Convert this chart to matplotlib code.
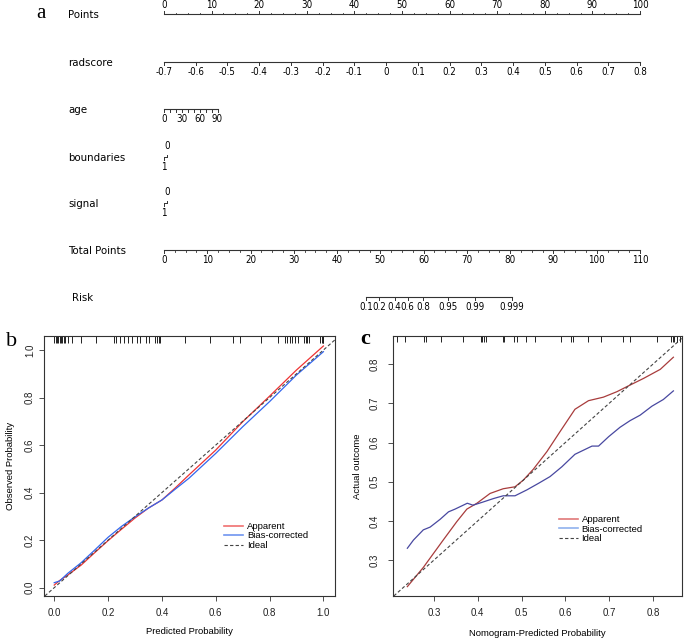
import numpy as np
import matplotlib
matplotlib.use("Agg")
import matplotlib.pyplot as plt
from matplotlib.lines import Line2D
from matplotlib import font_manager

plt.rcParams['font.family'] = ['Liberation Sans', 'DejaVu Sans']
SERIF = ['Liberation Serif', 'DejaVu Serif']

# a condensed face for the nomogram, if one is installed
narrow = None
for f in font_manager.fontManager.ttflist:
    if ('Narrow' in f.name or f.stretch in ('condensed', 'semi-condensed')) and f.weight in (400, 'normal') \
            and f.style == 'normal':
        if narrow is None or 'Liberation' in f.name:
            narrow = f.fname
NFP = dict(fontproperties=font_manager.FontProperties(fname=narrow)) if narrow else dict(family='Liberation Sans')

# ---------------- nomogram data ----------------
points_ticks = np.arange(0, 101, 10)
radscore_ticks = [-0.7, -0.6, -0.5, -0.4, -0.3, -0.2, -0.1, 0, 0.1, 0.2, 0.3, 0.4, 0.5, 0.6, 0.7, 0.8]
radscore_range = (-0.7, 0.8)          # maps to 0..100 points
age_ticks = np.arange(0, 91, 10)
age_labels = [0, 30, 60, 90]
age_max_points = 11.25                # points given to age = 90
boundaries_levels = ['0', '1']
boundaries_points = [0.6, 0.0]
signal_levels = ['0', '1']
signal_points = [0.6, 0.0]
total_ticks = np.arange(0, 111, 10)
total_max = 110
risk_ticks = [0.1, 0.2, 0.4, 0.6, 0.8, 0.95, 0.99, 0.999]
risk_labels = ['0.1', '0.2', '0.4', '0.6', '0.8', '0.95', '0.99', '0.999']
lp_intercept = -14.79                 # linear predictor = a + b * total points
lp_slope = 0.2698

# ---------------- calibration (b) ----------------
b_x = [0, 0.02, 0.05, 0.1, 0.15, 0.2, 0.25, 0.3, 0.35, 0.4, 0.45, 0.5, 0.6, 0.7, 0.8, 0.9, 1.0]
b_apparent = [0.011, 0.03, 0.053, 0.095, 0.147, 0.198, 0.246, 0.293, 0.335, 0.369, 0.42, 0.474,
              0.579, 0.698, 0.806, 0.916, 1.017]
b_bias = [0.021, 0.028, 0.06, 0.105, 0.158, 0.212, 0.258, 0.298, 0.335, 0.369, 0.415, 0.46,
          0.565, 0.677, 0.783, 0.895, 0.993]
b_rug = [0.0, 0.005, 0.01, 0.015, 0.02, 0.025, 0.03, 0.035, 0.04, 0.052, 0.067, 0.098, 0.157,
         0.222, 0.229, 0.244, 0.259, 0.273, 0.288, 0.306, 0.319, 0.341, 0.353, 0.374, 0.383,
         0.39, 0.393, 0.486, 0.579, 0.665, 0.69, 0.767, 0.833, 0.858, 0.866, 0.874, 0.882,
         0.895, 0.907, 0.926, 0.935, 0.938, 0.948, 0.988, 0.994, 0.998, 1.0]

# ---------------- calibration (c) ----------------
c_app_x = [0.239, 0.2755, 0.321, 0.352, 0.375, 0.398, 0.428, 0.458, 0.485, 0.504, 0.527, 0.558,
           0.588, 0.622, 0.653, 0.687, 0.718, 0.741, 0.779, 0.817, 0.847]
c_app_y = [0.232, 0.281, 0.351, 0.398, 0.430, 0.445, 0.470, 0.482, 0.487, 0.504, 0.532, 0.577,
           0.628, 0.685, 0.707, 0.716, 0.730, 0.743, 0.764, 0.787, 0.818]
c_bias_x = [0.239, 0.253, 0.2755, 0.291, 0.314, 0.333, 0.348, 0.376, 0.389, 0.409, 0.436, 0.458,
            0.485, 0.512, 0.539, 0.565, 0.592, 0.622, 0.661, 0.676, 0.699, 0.725, 0.748, 0.771,
            0.798, 0.824, 0.847]
c_bias_y = [0.330, 0.351, 0.377, 0.384, 0.404, 0.423, 0.430, 0.445, 0.440, 0.447, 0.457, 0.464,
            0.464, 0.479, 0.496, 0.513, 0.538, 0.570, 0.591, 0.591, 0.615, 0.639, 0.656, 0.670,
            0.693, 0.710, 0.732]
c_rug = [0.216, 0.234, 0.278, 0.281, 0.315, 0.367, 0.407, 0.410, 0.415, 0.419, 0.457, 0.461,
         0.483, 0.489, 0.510, 0.531, 0.590, 0.613, 0.617, 0.651, 0.682, 0.731, 0.747, 0.809,
         0.842, 0.846, 0.849, 0.856, 0.862]

fig = plt.figure(figsize=(6.85, 6.39), dpi=100)

# ================= a: nomogram =================
ppx = 4.76                      # pixels per point
ax = fig.add_axes([0, 1 - 320 / 639, 1, 320 / 639])
ax.set_xlim(-164 / ppx, (685 - 164) / ppx)
ax.set_ylim(320, 0)
ax.axis('off')
lc = '#333333'
tfs = 7.0 if narrow else 6.3


def scale(y, pos, labels, up=False, minor=None, lab_pos=None, tick=3):
    ax.plot([min(pos), max(pos)], [y, y], color=lc, lw=0.8)
    d = -tick if up else tick
    for p in pos:
        ax.plot([p, p], [y, y + d], color=lc, lw=0.7)
    if minor is not None:
        for p in minor:
            ax.plot([p, p], [y, y + d * 0.5], color=lc, lw=0.6)
    if lab_pos is None:
        lab_pos = pos
    for p, t in zip(lab_pos, labels):
        ax.text(p, y + (-9 if up else 10), t, ha='center', va='center', fontsize=tfs, **NFP)


row_y = {'Points': 14, 'radscore': 62, 'age': 109, 'boundaries': 157,
         'signal': 203, 'Total Points': 250, 'Risk': 297}
for name, y in row_y.items():
    ax.text(-96 / ppx if name != 'Risk' else -92 / ppx, y + 1, name, ha='left', va='center',
            fontsize=8.2 if narrow else 7.3, **NFP)

scale(row_y['Points'], points_ticks, [str(v) for v in points_ticks], up=True,
      minor=[v for v in np.arange(0, 100.1, 2.5) if v % 10])

rad_pts = [(r - radscore_range[0]) / (radscore_range[1] - radscore_range[0]) * 100 for r in radscore_ticks]
scale(row_y['radscore'], rad_pts, [('%g' % r) for r in radscore_ticks])

age_pts = [a / 90 * age_max_points for a in age_ticks]
scale(row_y['age'], age_pts, [str(a) for a in age_labels],
      lab_pos=[a / 90 * age_max_points for a in age_labels], tick=2.5)

for name, levels, pts in [('boundaries', boundaries_levels, boundaries_points),
                          ('signal', signal_levels, signal_points)]:
    y = row_y[name]
    ax.plot([min(pts), max(pts)], [y, y], color=lc, lw=0.7)
    for lev, p in zip(levels, pts):
        if p == max(pts):
            ax.plot([p, p], [y, y - 2.5], color=lc, lw=0.7)
            ax.text(p, y - 11, lev, ha='center', va='center', fontsize=tfs, **NFP)
        else:
            ax.plot([p, p], [y, y + 2.5], color=lc, lw=0.7)
            ax.text(p, y + 10, lev, ha='center', va='center', fontsize=tfs, **NFP)

tot_scale = 100 / total_max
scale(row_y['Total Points'], [t * tot_scale for t in total_ticks], [str(t) for t in total_ticks],
      minor=[v * tot_scale for v in np.arange(0, 110.1, 2.5) if v % 10])

risk_tp = [(np.log(p / (1 - p)) - lp_intercept) / lp_slope for p in risk_ticks]
scale(row_y['Risk'], [t * tot_scale for t in risk_tp], risk_labels, tick=2.5)

fig.text(41 / 685, 1 - 13 / 639, 'a', fontsize=15, family=SERIF, ha='center', va='center')


def style(axx):
    for s in axx.spines.values():
        s.set_linewidth(0.8)
        s.set_color('#333333')
    axx.tick_params(direction='out', length=3.5, width=0.6, labelsize=7.0, colors='#333333',
                    labelcolor='#222222')
    axx.tick_params(axis='x', pad=5)
    axx.tick_params(axis='y', pad=3)
    for lab in axx.get_yticklabels():
        lab.set_rotation(90)
        lab.set_va('center')


# ================= b =================
axb = fig.add_axes([44 / 685, 43 / 639, 291 / 685, 260 / 639])
axb.plot(b_x, b_apparent, color='#EE3333', lw=0.9)
axb.plot(b_x, b_bias, color='#3366EE', lw=0.9)
axb.axline((0, 0), slope=1, color='#444444', lw=0.8, ls=(0, (3, 2)))
axb.vlines(b_rug, 0.972, 1.0, transform=axb.get_xaxis_transform(), color='#222222', lw=0.7)
axb.set_xlim(-0.038, 1.043)
axb.set_ylim(-0.035, 1.059)
axb.set_xticks([0, 0.2, 0.4, 0.6, 0.8, 1.0])
axb.set_yticks([0, 0.2, 0.4, 0.6, 0.8, 1.0])
axb.set_xticklabels(['0.0', '0.2', '0.4', '0.6', '0.8', '1.0'])
axb.set_yticklabels(['0.0', '0.2', '0.4', '0.6', '0.8', '1.0'])
style(axb)
axb.set_xlabel('Predicted Probability', fontsize=6.8)
axb.set_ylabel('Observed Probability', fontsize=6.8)
axb.xaxis.set_label_coords(0.5, -(632 - 596) / 260)
axb.xaxis.label.set_va('center')
axb.yaxis.set_label_coords(-(44 - 11) / 291, 0.5)
axb.yaxis.label.set_va('center')
hb = [Line2D([], [], color='#F07070', lw=1.2), Line2D([], [], color='#6F95F0', lw=1.2),
      Line2D([], [], color='#444444', lw=0.8, ls=(0, (3, 2)))]
axb.legend(hb, ['Apparent', 'Bias-corrected', 'Ideal'], loc='upper left',
           bbox_to_anchor=(0.62, 0.285), frameon=False, fontsize=6.8, handlelength=2.0,
           handletextpad=0.4, labelspacing=0.05, borderpad=0, borderaxespad=0)
fig.text(12 / 685, 1 - 341 / 639, 'b', fontsize=16, family=SERIF, ha='center', va='center')

# ================= c =================
axc = fig.add_axes([392.7 / 685, 43 / 639, 289 / 685, 260.3 / 639])
axc.plot(c_app_x, c_app_y, color='#A83C3C', lw=0.9)
axc.plot(c_bias_x, c_bias_y, color='#4848A0', lw=0.9)
axc.axline((0.3, 0.3), slope=1, color='#444444', lw=0.8, ls=(0, (3, 2)))
axc.vlines(c_rug, 0.975, 1.0, transform=axc.get_xaxis_transform(), color='#222222', lw=0.7)
axc.set_xlim(0.2055, 0.866)
axc.set_ylim(0.208, 0.873)
axc.set_xticks([0.3, 0.4, 0.5, 0.6, 0.7, 0.8])
axc.set_yticks([0.3, 0.4, 0.5, 0.6, 0.7, 0.8])
axc.set_xticklabels(['0.3', '0.4', '0.5', '0.6', '0.7', '0.8'])
axc.set_yticklabels(['0.3', '0.4', '0.5', '0.6', '0.7', '0.8'])
style(axc)
axc.tick_params(axis='y', pad=6)
axc.set_xlabel('Nomogram-Predicted Probability', fontsize=6.8)
axc.set_ylabel('Actual outcome', fontsize=6.8)
axc.xaxis.set_label_coords(0.5, -(633 - 596) / 260)
axc.xaxis.label.set_va('center')
axc.yaxis.set_label_coords(-(392.7 - 358) / 289, 0.5)
axc.yaxis.label.set_va('center')
hc = [Line2D([], [], color='#E07878', lw=1.2), Line2D([], [], color='#90B2EE', lw=1.2),
      Line2D([], [], color='#444444', lw=0.8, ls=(0, (3, 2)))]
axc.legend(hc, ['Apparent', 'Bias-corrected', 'Ideal'], loc='upper left',
           bbox_to_anchor=(0.575, 0.31), frameon=False, fontsize=6.8, handlelength=2.0,
           handletextpad=0.4, labelspacing=0.05, borderpad=0, borderaxespad=0)
fig.text(365 / 685, 1 - 339 / 639, 'c', fontsize=16, family=SERIF, ha='center', va='center',
         weight='bold')

fig.savefig('out.png', dpi=100, facecolor='white')
